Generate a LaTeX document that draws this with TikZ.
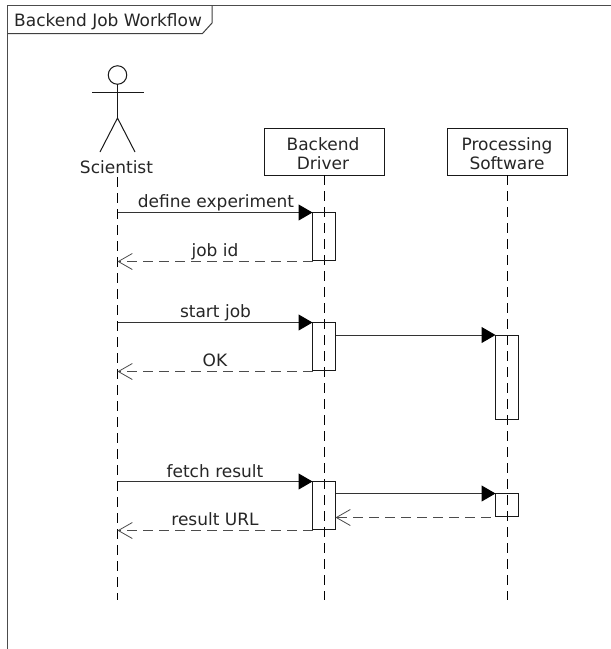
\documentclass[tikz,border=0pt]{standalone}
\usepackage{fontspec}
\setmainfont{DejaVu Sans}
\usetikzlibrary{arrows.meta,calc}
\tikzset{
  x=1pt,y=-1pt,
  lbl/.style={font=\fontsize{17}{19}\selectfont,text=black!85,inner sep=0pt},
  part/.style={draw=black!90,line width=1pt,fill=white,align=center,font=\fontsize{17}{19}\selectfont,text=black!85,inner sep=0pt,outer sep=0pt,minimum width=120pt,minimum height=47pt},
  life/.style={draw=black,line width=1pt,dash pattern=on 10pt off 6pt},
  activ/.style={draw=black!90,line width=1pt,inner sep=0pt,outer sep=0pt,minimum width=23pt,anchor=north west},
  msg/.style={draw=black!80,line width=1pt,-{Triangle[length=14pt,width=16pt,fill=black,black]}},
  ret/.style={draw=black!70,line width=1pt,dash pattern=on 10pt off 6pt,-{Straight Barb[length=14pt,width=16pt,line width=.8pt,black!70]}},
  stick/.style={draw=black!90,line width=1pt}
}
\begin{document}
\begin{tikzpicture}
\useasboundingbox (0,0) rectangle (611,649);
\fill[white] (0,0) rectangle (611,649);
% frame
\coordinate (fa) at (7.5,649);
\coordinate (fb) at (7.5,5.5);
\coordinate (fc) at (611,5.5);
\draw[black!70,line width=1pt] (fa) -- (fb) -- (fc);
\coordinate (ta) at (212,5.5);
\coordinate (tb) at (212,23);
\coordinate (tc) at (202.5,33.5);
\coordinate (td) at (7.5,33.5);
\draw[black!75,line width=1pt] (ta) -- (tb) -- (tc) -- (td);
\node[lbl,anchor=west] (title) at (14,22) {Backend Job Workflow};
% actor
\node[draw=black!90,line width=1pt,circle,minimum size=18.5pt,inner sep=0pt,outer sep=0pt] (head) at (117.5,75) {};
\coordinate (hip) at (117.5,118);
\coordinate (armL) at (92,92.5);
\coordinate (armR) at (144,92.5);
\coordinate (legL) at (100,152);
\coordinate (legR) at (135,152);
\draw[stick] (head.south) -- (hip);
\draw[stick] (armL) -- (armR);
\draw[stick] (legL) -- (hip) -- (legR);
\node[lbl] (sci) at (116.5,167) {Scientist};
% participants
\node[part,text depth=0pt] (drv) at (324.5,151.5) {};
\node[part,text depth=0pt] (prc) at (507.5,151.5) {};
\node[lbl,align=center] (drvt) at (323,153.5) {Backend\\Driver};
\node[lbl,align=center] (prct) at (507,153.5) {Processing\\Software};
% lifelines
\coordinate (sciTop) at (117.5,177);
\coordinate (sciEnd) at (117.5,600);
\coordinate (drvEnd) at (324.5,600);
\coordinate (prcEnd) at (507.5,600);
\draw[life] (sciTop) -- (sciEnd);
\draw[life] (drv.south) -- (drvEnd);
\draw[life] (prc.south) -- (prcEnd);
% activations
\node[activ,minimum height=48pt] (a1) at (312.5,212.5) {};
\node[activ,minimum height=48pt] (a2) at (312.5,322.5) {};
\node[activ,minimum height=48pt] (a3) at (312.5,481.5) {};
\node[activ,minimum height=84pt] (p1) at (495.5,335) {};
\node[activ,minimum height=23pt] (p2) at (495.5,493.5) {};
% messages
\coordinate (r1) at ($(a1.south west)+(0,1)$);
\coordinate (r2) at ($(a2.south west)+(0,1)$);
\coordinate (r3) at ($(a3.south west)+(0,1)$);
\coordinate (r4) at ($(p2.south west)+(-5,1)$);
\draw[msg] (sciTop |- a1.north west) -- (a1.north west);
\draw[ret] (r1) -- (sciTop |- r1);
\draw[msg] (sciTop |- a2.north west) -- (a2.north west);
\draw[ret] (r2) -- (sciTop |- r2);
\draw[msg] (a2.east |- p1.north west) -- (p1.north west);
\draw[msg] (sciTop |- a3.north west) -- (a3.north west);
\draw[ret] (r3) -- (sciTop |- r3);
\draw[msg] (a3.east |- p2.north west) -- (p2.north west);
\draw[ret] (r4) -- (a3.east |- r4);
% labels
\node[lbl] (m1) at (216,202.5) {define experiment};
\node[lbl] (m2) at (215,252) {job id};
\node[lbl] (m3) at (215.5,313) {start job};
\node[lbl] (m4) at (215,360.5) {OK};
\node[lbl] (m5) at (215,471) {fetch result};
\node[lbl] (m6) at (215,519) {result URL};
\end{tikzpicture}
\end{document}
